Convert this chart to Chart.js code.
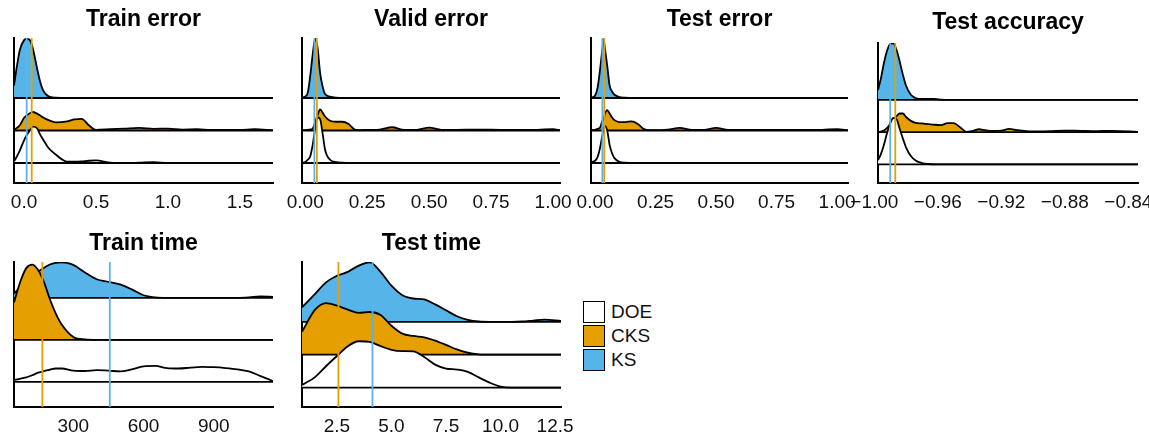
<!DOCTYPE html>
<html>
<head>
<meta charset="utf-8">
<script src="https://cdn.jsdelivr.net/npm/chart.js@4.4.1/dist/chart.umd.min.js"></script>
<style>
html, body { margin: 0; padding: 0; background: #fff; overflow: hidden; }
body { width: 1149px; height: 435px; position: relative; font-family: "Liberation Sans", Arial, sans-serif; }
canvas { position: absolute; }
#legend { position: absolute; left: 583px; top: 301px; }
.item { display: flex; align-items: center; height: 22px; margin-bottom: 2px; font-size: 19px; color: #111; }
.box { width: 22px; height: 22px; box-sizing: border-box; border: 1.8px solid #000; margin-right: 6px; }
</style>
</head>
<body>
<div id="legend"></div>
<script>
const methods = ['DOE', 'CKS', 'KS'];
const methodColors = ['#ffffff', '#E69F00', '#56B4E9'];
const panelTitles = ['Train error', 'Valid error', 'Test error', 'Test accuracy', 'Train time', 'Test time'];

// densities are ridge heights above each baseline (1 = gap between ridges)

// Train error
const trainErrX = [-0.07, -0.05, -0.03, 0, 0.02, 0.04, 0.06, 0.09, 0.11, 0.13, 0.17, 0.22, 0.3, 0.35, 0.4, 0.45, 0.5, 0.6, 0.7, 0.8, 0.9, 1.0, 1.1, 1.2, 1.3, 1.4, 1.5, 1.6, 1.73];
const trainErrKS = [0.38, 0.97, 1.47, 1.78, 1.82, 1.78, 1.54, 0.92, 0.53, 0.26, 0.05, 0.01, 0, 0, 0, 0, 0, 0, 0, 0, 0, 0, 0, 0, 0, 0, 0, 0, 0];
const trainErrCKS = [0.02, 0.08, 0.16, 0.39, 0.47, 0.53, 0.57, 0.52, 0.47, 0.41, 0.32, 0.25, 0.28, 0.34, 0.36, 0.16, 0.02, 0.04, 0.06, 0.08, 0.05, 0.06, 0.03, 0.04, 0.02, 0.02, 0.02, 0.04, 0.01];
const trainErrDOE = [0.05, 0.2, 0.38, 0.7, 0.87, 1.0, 1.12, 1.07, 0.89, 0.74, 0.46, 0.26, 0.04, 0.04, 0.05, 0.07, 0.08, 0.01, 0, 0.01, 0.03, 0, 0, 0, 0, 0, 0, 0, 0];
const trainErrTicks = [0, 0.5, 1, 1.5];
const trainErrTickLabels = ['0.0', '0.5', '1.0', '1.5'];

// Valid error
const validErrX = [-0.013, 0, 0.01, 0.02, 0.03, 0.04, 0.05, 0.06, 0.07, 0.08, 0.1, 0.125, 0.15, 0.175, 0.2, 0.225, 0.25, 0.3, 0.35, 0.4, 0.45, 0.5, 0.55, 0.6, 0.7, 0.8, 0.9, 1.0, 1.028];
const validErrKS = [0.01, 0.05, 0.15, 0.67, 1.33, 1.82, 1.54, 0.77, 0.36, 0.12, 0.04, 0.01, 0, 0, 0, 0, 0, 0, 0, 0, 0, 0, 0, 0, 0, 0, 0, 0, 0];
const validErrCKS = [0.01, 0.01, 0.02, 0.03, 0.06, 0.25, 0.48, 0.65, 0.55, 0.43, 0.3, 0.27, 0.27, 0.2, 0.03, 0.01, 0.02, 0.03, 0.1, 0.02, 0.02, 0.09, 0.02, 0.02, 0.03, 0.02, 0.02, 0.04, 0.01];
const validErrDOE = [0.01, 0.03, 0.1, 0.2, 0.55, 1.05, 1.4, 1.35, 0.92, 0.41, 0.1, 0.03, 0.01, 0, 0, 0, 0, 0, 0, 0, 0, 0, 0, 0, 0, 0, 0, 0, 0];
const validErrTicks = [0, 0.25, 0.5, 0.75, 1];
const validErrTickLabels = ['0.00', '0.25', '0.50', '0.75', '1.00'];

// Test error
const testErrX = [-0.017, 0, 0.01, 0.02, 0.03, 0.035, 0.04, 0.05, 0.06, 0.07, 0.08, 0.1, 0.125, 0.15, 0.175, 0.2, 0.225, 0.25, 0.3, 0.35, 0.4, 0.45, 0.5, 0.55, 0.6, 0.7, 0.8, 0.9, 1.0, 1.045];
const testErrKS = [0.01, 0.08, 0.31, 0.85, 1.5, 1.8, 1.55, 1.0, 0.38, 0.2, 0.1, 0.03, 0.01, 0, 0, 0, 0, 0, 0, 0, 0, 0, 0, 0, 0, 0, 0, 0, 0, 0];
const testErrCKS = [0.01, 0.02, 0.05, 0.08, 0.3, 0.34, 0.5, 0.63, 0.52, 0.4, 0.32, 0.26, 0.26, 0.28, 0.21, 0.05, 0.01, 0.01, 0.03, 0.08, 0.02, 0.02, 0.08, 0.02, 0.02, 0.02, 0.02, 0.02, 0.04, 0.01];
const testErrDOE = [0.02, 0.07, 0.18, 0.45, 0.85, 1.02, 1.14, 1.0, 0.55, 0.3, 0.15, 0.04, 0.01, 0, 0, 0, 0, 0, 0, 0, 0, 0, 0, 0, 0, 0, 0, 0, 0, 0];
const testErrTicks = [0, 0.25, 0.5, 0.75, 1];
const testErrTickLabels = ['0.00', '0.25', '0.50', '0.75', '1.00'];

// Test accuracy
const testAccX = [-0.9977, -0.996, -0.994, -0.992, -0.99, -0.988, -0.986, -0.984, -0.982, -0.98, -0.977, -0.974, -0.97, -0.966, -0.962, -0.958, -0.954, -0.95, -0.946, -0.942, -0.938, -0.934, -0.93, -0.925, -0.92, -0.915, -0.91, -0.9, -0.89, -0.88, -0.87, -0.86, -0.85, -0.8339];
const testAccKS = [0.31, 0.64, 1.14, 1.53, 1.74, 1.76, 1.55, 1.19, 0.78, 0.44, 0.16, 0.06, 0.03, 0.03, 0.03, 0.01, 0, 0, 0, 0, 0, 0, 0, 0, 0, 0, 0, 0, 0, 0, 0, 0, 0, 0];
const testAccCKS = [0, 0.02, 0.05, 0.13, 0.25, 0.38, 0.5, 0.58, 0.58, 0.47, 0.35, 0.29, 0.27, 0.25, 0.23, 0.22, 0.28, 0.28, 0.15, 0.01, 0.04, 0.09, 0.06, 0.04, 0.05, 0.1, 0.06, 0.02, 0.03, 0.05, 0.04, 0.03, 0.04, 0.01];
const testAccDOE = [0.13, 0.3, 0.6, 0.97, 1.28, 1.44, 1.4, 1.1, 0.8, 0.52, 0.26, 0.12, 0.04, 0.01, 0, 0, 0, 0, 0, 0, 0, 0, 0, 0, 0, 0, 0, 0, 0, 0, 0, 0, 0, 0];
const testAccTicks = [-1, -0.96, -0.92, -0.88, -0.84];
const testAccTickLabels = ['\u22121.00', '\u22120.96', '\u22120.92', '\u22120.88', '\u22120.84'];

// Train time
const trainTimeX = [47, 75, 100, 125, 150, 175, 200, 225, 250, 300, 350, 400, 450, 500, 550, 600, 650, 700, 750, 800, 850, 900, 950, 1000, 1050, 1100, 1153];
const trainTimeKS = [0.1, 0.26, 0.38, 0.5, 0.62, 0.71, 0.79, 0.83, 0.84, 0.78, 0.6, 0.44, 0.38, 0.32, 0.2, 0.06, 0.01, 0, 0, 0, 0, 0, 0, 0, 0.01, 0.03, 0.02];
const trainTimeCKS = [0.89, 1.4, 1.71, 1.79, 1.66, 1.37, 0.97, 0.63, 0.37, 0.07, 0.01, 0, 0, 0, 0, 0, 0, 0, 0, 0, 0, 0, 0, 0, 0, 0, 0];
const trainTimeDOE = [0.04, 0.08, 0.11, 0.16, 0.22, 0.26, 0.29, 0.32, 0.32, 0.27, 0.26, 0.28, 0.27, 0.25, 0.3, 0.37, 0.38, 0.33, 0.32, 0.34, 0.36, 0.35, 0.33, 0.3, 0.25, 0.14, 0.02];
const trainTimeTicks = [300, 600, 900];
const trainTimeTickLabels = ['300', '600', '900'];

// Test time
const testTimeX = [0.9, 1.5, 2, 2.5, 3, 3.5, 4, 4.5, 5, 5.5, 6, 6.5, 7, 7.5, 8, 8.5, 9, 9.5, 10, 10.5, 11, 11.5, 12, 12.77];
const testTimeKS = [0.44, 0.85, 1.2, 1.4, 1.52, 1.71, 1.81, 1.52, 1.1, 0.81, 0.71, 0.68, 0.53, 0.35, 0.17, 0.06, 0.01, 0, 0, 0, 0.01, 0.04, 0.07, 0.03];
const testTimeCKS = [0.7, 1.37, 1.57, 1.49, 1.37, 1.27, 1.3, 1.21, 0.88, 0.64, 0.57, 0.53, 0.43, 0.3, 0.16, 0.06, 0.01, 0, 0, 0, 0, 0, 0, 0];
const testTimeDOE = [0.08, 0.32, 0.65, 0.96, 1.26, 1.41, 1.39, 1.26, 1.15, 1.11, 1.1, 0.93, 0.7, 0.58, 0.55, 0.48, 0.31, 0.15, 0.03, 0, 0, 0, 0, 0];
const testTimeTicks = [2.5, 5, 7.5, 10, 12.5];
const testTimeTickLabels = ['2.5', '5.0', '7.5', '10.0', '12.5'];

// median lines, one per panel
const medianKS = [0.018, 0.037, 0.030, -0.990, 456, 4.13];
const medianCKS = [0.053, 0.047, 0.038, -0.9868, 168, 2.57];

const FONT = '"Liberation Sans", Arial, sans-serif';
const PAD = 45, TITLE_H = 40, AXIS_H = 35;
const LINE_W = 1.8;

// box = plot area on the page [left, top, right, bottom]
const panels = [
  { x: trainErrX, dens: [trainErrDOE, trainErrCKS, trainErrKS], ticks: trainErrTicks, labels: trainErrTickLabels, box: [14, 38, 273, 183], yRange: [-0.615, 3.846], titlePad: 8 },
  { x: validErrX, dens: [validErrDOE, validErrCKS, validErrKS], ticks: validErrTicks, labels: validErrTickLabels, box: [302, 38, 560, 183], yRange: [-0.615, 3.846], titlePad: 8 },
  { x: testErrX, dens: [testErrDOE, testErrCKS, testErrKS], ticks: testErrTicks, labels: testErrTickLabels, box: [591, 38, 848, 183], yRange: [-0.615, 3.846], titlePad: 8 },
  { x: testAccX, dens: [testAccDOE, testAccCKS, testAccKS], ticks: testAccTicks, labels: testAccTickLabels, box: [878, 43, 1138, 183], yRange: [-0.58, 3.77], titlePad: 5.5 },
  { x: trainTimeX, dens: [trainTimeDOE, trainTimeCKS, trainTimeKS], ticks: trainTimeTicks, labels: trainTimeTickLabels, box: [14, 262, 273, 407], yRange: [-0.595, 2.85], titlePad: 8 },
  { x: testTimeX, dens: [testTimeDOE, testTimeCKS, testTimeKS], ticks: testTimeTicks, labels: testTimeTickLabels, box: [302, 262, 561, 407], yRange: [-0.59, 3.82], titlePad: 8 }
];

// baseline under each ridge, drawn right after that ridge
const ridgeBase = {
  id: 'ridgeBase',
  afterDatasetDraw(chart, args) {
    const ds = chart.data.datasets[args.index];
    const { ctx, chartArea: a } = chart;
    const py = chart.scales.y.getPixelForValue(ds.baseline);
    ctx.save();
    ctx.strokeStyle = '#000';
    ctx.lineWidth = LINE_W;
    ctx.beginPath();
    ctx.moveTo(a.left, py);
    ctx.lineTo(a.right, py);
    ctx.stroke();
    ctx.restore();
  }
};

const medianLines = {
  id: 'medianLines',
  afterDatasetsDraw(chart, args, opts) {
    const { ctx, chartArea: a } = chart;
    [[opts.ks, methodColors[2]], [opts.cks, methodColors[1]]].forEach(([v, col]) => {
      const px = chart.scales.x.getPixelForValue(v);
      ctx.save();
      ctx.strokeStyle = col;
      ctx.lineWidth = 1.8;
      ctx.beginPath();
      ctx.moveTo(px, a.top);
      ctx.lineTo(px, a.bottom);
      ctx.stroke();
      ctx.restore();
    });
  }
};

panels.forEach((p, i) => {
  const w = p.box[2] - p.box[0] + 2 * PAD;
  const h = TITLE_H + (p.box[3] - p.box[1]) + AXIS_H;
  const cv = document.createElement('canvas');
  cv.width = w; cv.height = h;
  cv.style.left = (p.box[0] - PAD) + 'px';
  cv.style.top = (p.box[1] - TITLE_H) + 'px';
  cv.style.width = w + 'px';
  cv.style.height = h + 'px';
  document.body.appendChild(cv);

  const datasets = methods.map((m, k) => ({
    label: m,
    data: p.x.map((xv, j) => ({ x: xv, y: k + p.dens[k][j] })),
    baseline: k,
    borderColor: '#000',
    borderWidth: LINE_W,
    backgroundColor: methodColors[k],
    fill: { value: k },
    pointRadius: 0,
    cubicInterpolationMode: 'monotone',
    order: k + 1
  }));

  new Chart(cv.getContext('2d'), {
    type: 'line',
    data: { datasets },
    options: {
      responsive: false,
      animation: false,
      devicePixelRatio: 1,
      layout: { padding: { left: PAD, right: PAD, top: 0, bottom: 0 } },
      plugins: {
        legend: { display: false },
        tooltip: { enabled: false },
        title: {
          display: true,
          text: panelTitles[i],
          color: '#000',
          font: { family: FONT, size: 23, weight: 'bold', lineHeight: 1.2 },
          padding: { top: p.titlePad, bottom: TITLE_H - 27.6 - p.titlePad }
        },
        medianLines: { ks: medianKS[i], cks: medianCKS[i] }
      },
      scales: {
        x: {
          type: 'linear',
          min: p.x[0],
          max: p.x[p.x.length - 1],
          grid: { display: false, drawTicks: false },
          border: { display: true, color: '#000', width: 2 },
          ticks: {
            autoSkip: false,
            maxRotation: 0,
            padding: 8,
            color: '#111',
            font: { family: FONT, size: 19 },
            callback: (v, idx) => p.labels[idx]
          },
          afterBuildTicks: s => { s.ticks = p.ticks.map(v => ({ value: v })); },
          afterFit: s => { s.height = AXIS_H; }
        },
        y: {
          type: 'linear',
          min: p.yRange[0],
          max: p.yRange[1],
          grid: { display: false, drawTicks: false },
          ticks: { display: false },
          border: { display: true, color: '#000', width: 2 },
          afterFit: s => { s.width = 0; }
        }
      }
    },
    plugins: [ridgeBase, medianLines]
  });
});

// legend
const legend = document.getElementById('legend');
methods.forEach((m, k) => {
  const item = document.createElement('div');
  item.className = 'item';
  const box = document.createElement('div');
  box.className = 'box';
  box.style.background = methodColors[k];
  const label = document.createElement('span');
  label.textContent = m;
  item.appendChild(box);
  item.appendChild(label);
  legend.appendChild(item);
});
</script>
</body>
</html>
